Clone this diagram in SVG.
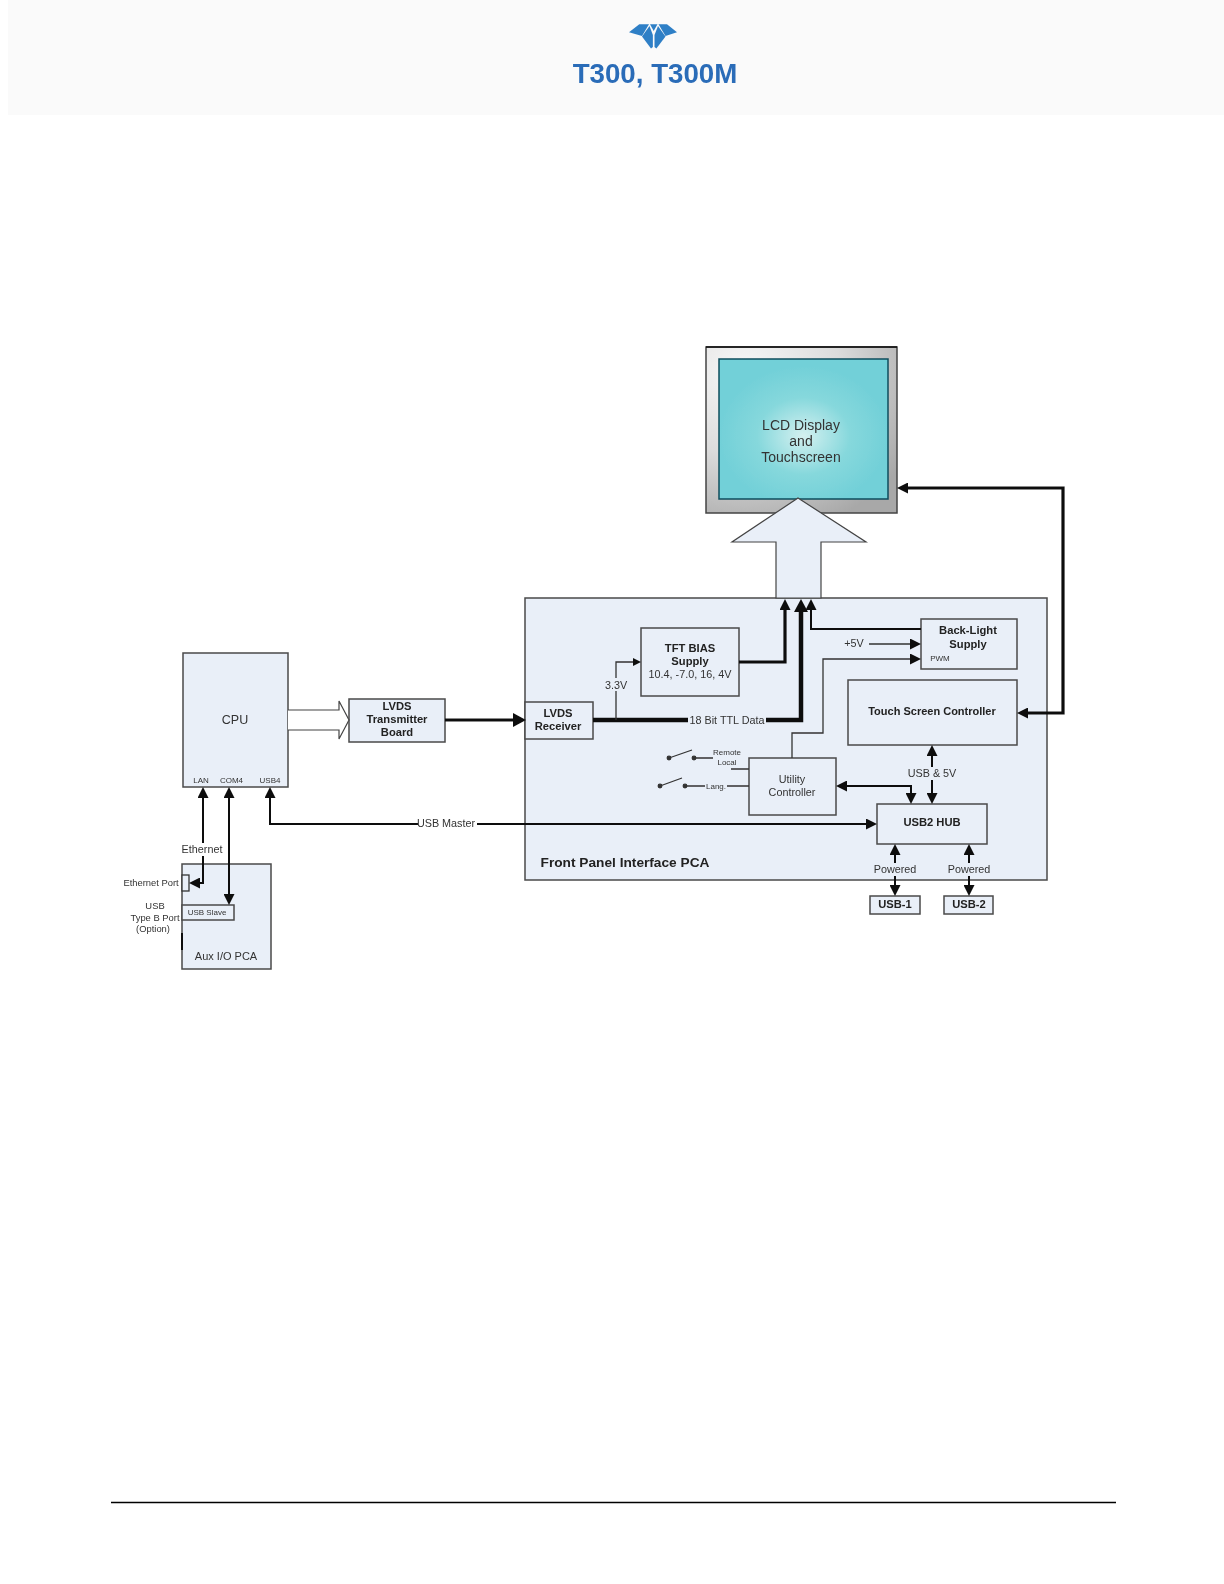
<svg xmlns="http://www.w3.org/2000/svg" width="1224" height="1584" viewBox="0 0 1224 1584">
<style>
text{font-family:"Liberation Sans",Arial,sans-serif;fill:#333;text-anchor:middle}
.b{font-weight:bold;fill:#222}
.box{fill:#e9eff8;stroke:#4a4a4a;stroke-width:1.5}
.c{fill:none;stroke:#111}
.w1{stroke-width:1.3;stroke:#333}
.w2{stroke-width:2}
.w3{stroke-width:3.2}
.w5{stroke-width:4.5}
.s14{font-size:14px}.s13{font-size:12.5px}.s12{font-size:11px}.s11{font-size:10.8px}.sb{font-size:11.2px}.s9{font-size:9.4px}.s8{font-size:8px}
.bg{fill:#e9eff8}
</style>
<defs>
<filter id="soft" filterUnits="userSpaceOnUse" x="0" y="0" width="1224" height="1584"><feGaussianBlur stdDeviation="0.35"/></filter>
<marker id="m" viewBox="0 -5.500 11 11" markerWidth="11" markerHeight="11" markerUnits="userSpaceOnUse" refX="0" refY="0" orient="auto-start-reverse"><path d="M0-5.500L11 0L0 5.500z" fill="#111"/></marker>
<marker id="l" viewBox="0 -7 13 14" markerWidth="13" markerHeight="14" markerUnits="userSpaceOnUse" refX="0" refY="0" orient="auto-start-reverse"><path d="M0-7L13 0L0 7z" fill="#111"/></marker>
<marker id="s" viewBox="0 -4 8 8" markerWidth="8" markerHeight="8" markerUnits="userSpaceOnUse" refX="0" refY="0" orient="auto-start-reverse"><path d="M0-4L8 0L0 4z" fill="#111"/></marker>
<radialGradient id="frame" cx=".2" cy=".15" r="1"><stop offset="0" stop-color="#f8f8f8"/><stop offset=".5" stop-color="#dcdcdc"/><stop offset="1" stop-color="#a8a8a8"/></radialGradient>
<radialGradient id="scr" cx=".5" cy=".55" r=".5"><stop offset="0" stop-color="#d4f0f0"/><stop offset=".55" stop-color="#86d8dc"/><stop offset="1" stop-color="#72d0d8"/></radialGradient>
</defs>

<g id="header" filter="url(#soft)">
<rect x="8" y="0" width="1216" height="115" fill="#fafafa"/>
<g id="logo" fill="#2f7fc6">
<path d="M629 32.300L639.300 24.300H649L642 36z"/>
<path d="M677 32.300L667 24.300H658.500L665.500 36z"/>
<path d="M642 36.500L649.500 26L652.900 35V47L651 48.500z"/>
<path d="M665.500 36.500L658 26L654.500 35V47L656.400 48.500z"/>
<path d="M650 24.300H657.500L653.700 31z"/>
</g>
<text x="655" y="83" style="font-size:27.700px;font-weight:bold;fill:#2b6cb8">T300, T300M</text>
</g>

<g filter="url(#soft)">
<g id="front-panel"><rect class="box" x="525" y="598" width="522" height="282"/><text class="b" style="font-size:13.700px" x="625" y="867">Front Panel Interface PCA</text></g>
<g id="lcd">
<rect x="706" y="347" width="191" height="166" fill="url(#frame)" stroke="#444" stroke-width="1.5"/>
<path d="M706 347H897" stroke="#111" stroke-width="1.5"/>
<rect x="719" y="359" width="169" height="140" fill="url(#scr)" stroke="#0f4d5c" stroke-width="1.5"/>
<text class="s14" x="801" y="430">LCD Display</text><text class="s14" x="801" y="446">and</text><text class="s14" x="801" y="462">Touchscreen</text>
</g>
<g id="big-arrow"><path d="M798 498L866 542H821V598H776V542H732z" fill="#e9eff8" stroke="#444" stroke-width="1.2"/></g>

<g id="cpu"><rect class="box" x="183" y="653" width="105" height="134"/><text class="s13" x="235" y="724">CPU</text>
<text class="s8" x="201" y="783">LAN</text><text class="s8" x="231.500" y="783">COM4</text><text class="s8" x="270" y="783">USB4</text></g>
<g id="lvds-tx"><rect class="box" x="349" y="699" width="96" height="43"/><text class="b sb" x="397" y="710">LVDS</text><text class="b sb" x="397" y="723">Transmitter</text><text class="b sb" x="397" y="736">Board</text></g>
<g id="aux"><rect class="box" x="182" y="864" width="89" height="105"/><text class="s12" x="226" y="960">Aux I/O PCA</text></g>
<g id="eth-port"><rect x="182" y="875" width="7" height="16" fill="#e9eff8" stroke="#333" stroke-width="1.3"/></g>
<g id="usb-slave"><rect class="box" x="182" y="905" width="52" height="15"/><text class="s8" x="207" y="915">USB Slave</text></g>
<g id="lvds-rx"><rect class="box" x="525" y="702" width="68" height="37"/><text class="b sb" x="558" y="717">LVDS</text><text class="b sb" x="558" y="730">Receiver</text></g>
<g id="tft"><rect class="box" x="641" y="628" width="98" height="68"/><text class="b sb" x="690" y="652">TFT BIAS</text><text class="b sb" x="690" y="665">Supply</text><text class="s11" x="690" y="678">10.4, -7.0, 16, 4V</text></g>
<g id="backlight"><rect class="box" x="921" y="619" width="96" height="50"/><text class="b sb" x="968" y="634">Back-Light</text><text class="b sb" x="968" y="648">Supply</text><text class="s8" x="940" y="661">PWM</text></g>
<g id="touch"><rect class="box" x="848" y="680" width="169" height="65"/><text class="b" style="font-size:11px" x="932" y="715">Touch Screen Controller</text></g>
<g id="utility"><rect class="box" x="749" y="758" width="87" height="57"/><text class="s11" x="792" y="783">Utility</text><text class="s11" x="792" y="796">Controller</text></g>
<g id="hub"><rect class="box" x="877" y="804" width="110" height="40"/><text class="b sb" x="932" y="826">USB2 HUB</text></g>
<g id="usb1"><rect class="box" x="870" y="896" width="50" height="18"/><text class="b sb" x="895" y="908">USB-1</text></g>
<g id="usb2"><rect class="box" x="944" y="896" width="49" height="18"/><text class="b sb" x="969" y="908">USB-2</text></g>

<g id="connectors">
<path d="M288 710H339V701L349 720L339 739V730H288" fill="#fff" stroke="#444" stroke-width="1.2"/>
<path class="c w3" d="M445 720H513" marker-end="url(#l)"/>
<path class="c w5" d="M593 720H801V612" marker-end="url(#l)"/>
<path class="c w3" d="M739 662H785V610" marker-end="url(#m)"/>
<path class="c w1" d="M616 720V662H633" marker-end="url(#s)"/>
<path class="c w2" d="M921 629H811V610" marker-end="url(#m)"/>
<path class="c w1" d="M869 644H910" marker-end="url(#m)"/>
<path class="c w1" d="M792 758V733H823V659H910" marker-end="url(#m)"/>
<path class="c w3" d="M908 488H1063V713H1028" marker-start="url(#m)" marker-end="url(#m)"/>
<path class="c w2" d="M932 793V756" marker-end="url(#m)"/>
<path class="c w2" d="M932 753V793" marker-end="url(#m)"/>
<path class="c w2" d="M847 786H911V793" marker-start="url(#m)" marker-end="url(#m)"/>
<path class="c w2" d="M280 824H270V798" marker-end="url(#m)"/>
<path class="c w2" d="M270 824H866" marker-end="url(#m)"/>
<path class="c w2" d="M895 885V855" marker-end="url(#m)"/>
<path class="c w2" d="M895 855V885" marker-end="url(#m)"/>
<path class="c w2" d="M969 885V855" marker-end="url(#m)"/>
<path class="c w2" d="M969 855V885" marker-end="url(#m)"/>
<path class="c w2" d="M203 798V883H200" marker-start="url(#m)" marker-end="url(#m)"/>
<path class="c w2" d="M229 798V894" marker-start="url(#m)" marker-end="url(#m)"/>
<path class="c w2" d="M182 933V950"/>

<g class="c w1">
<path d="M669 758L692 750M694 758H713M731 769H749M660 786L682 778M685 786H705M727 786H749"/>
<circle cx="669" cy="758" r="1.8" fill="#333"/><circle cx="694" cy="758" r="1.8" fill="#333"/><circle cx="660" cy="786" r="1.8" fill="#333"/><circle cx="685" cy="786" r="1.8" fill="#333"/>
</g>
</g>

<g id="labels">
<rect class="bg" x="688" y="714" width="78" height="12"/><text class="s11" x="727" y="724">18 Bit TTL Data</text>
<rect class="bg" x="604" y="678" width="24" height="13"/><text class="s11" x="616" y="689">3.3V</text>
<text class="s11" x="854" y="647">+5V</text>
<rect class="bg" x="906" y="767" width="52" height="13"/><text class="s11" x="932" y="777">USB &amp; 5V</text>
<rect class="bg" x="873" y="863" width="44" height="13"/><text class="s11" x="895" y="873">Powered</text>
<rect class="bg" x="947" y="863" width="44" height="13"/><text class="s11" x="969" y="873">Powered</text>
<rect x="418" y="818" width="59" height="12" fill="#fff"/><text class="s11" x="446" y="827">USB Master</text>
<rect x="181" y="843" width="44" height="13" fill="#fff"/><text class="s11" x="202" y="853">Ethernet</text>
<text class="s9" x="151" y="886">Ethernet Port</text>
<text class="s9" x="155" y="909">USB</text><text class="s9" x="155" y="921">Type B Port</text><text class="s9" x="153" y="932">(Option)</text>
<text class="s8" x="727" y="755">Remote</text><text class="s8" x="727" y="765">Local</text>
<text class="s8" x="716" y="789">Lang.</text>
</g>
</g>

<g id="footer"><path d="M111 1502.500H1116" stroke="#000" stroke-width="1.3"/></g>
</svg>
